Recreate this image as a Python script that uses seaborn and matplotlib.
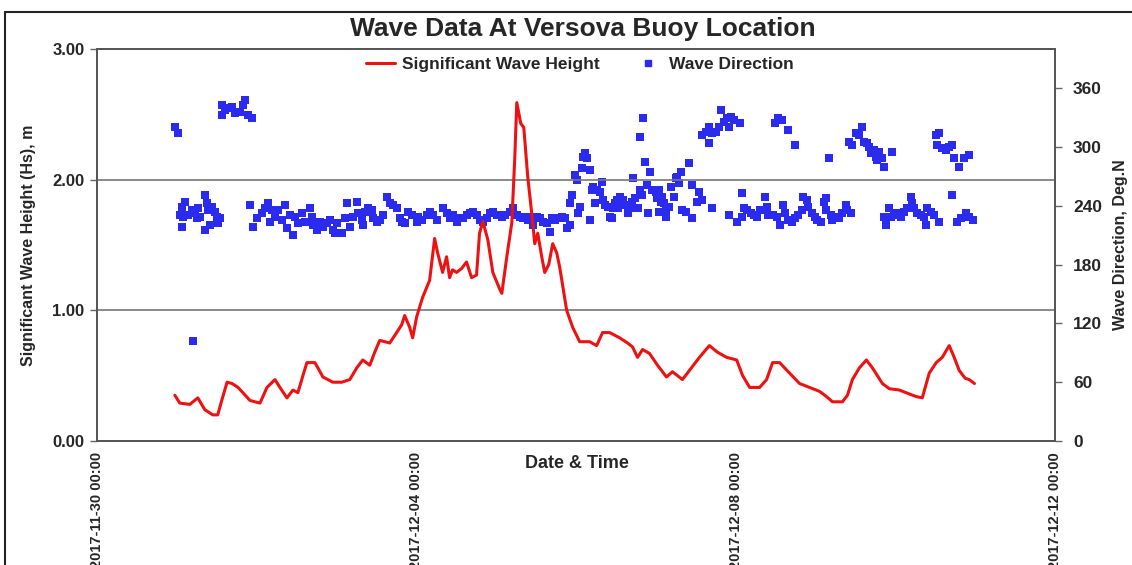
import numpy as np
import pandas as pd
import matplotlib
matplotlib.use("Agg")
import matplotlib.pyplot as plt
import matplotlib.dates as mdates
from matplotlib.lines import Line2D
import seaborn as sns

# ---------------- data (hours since 2017-11-30 00:00) ----------------
hs_hours = [23.4, 24.9, 27.9, 30.3, 32.4, 34.8, 36.3, 37.5, 39.1, 40.6, 42.4, 44.2, 46.0, 49.0,
            51.1, 53.5, 55.0, 57.1, 58.9, 60.4, 61.9, 63.1, 65.5, 66.4, 67.9, 70.9, 73.6, 76.0,
            78.1, 79.9, 82.0, 83.5, 85.0, 86.5, 88.0, 90.1, 91.6, 92.5, 94.0, 94.9, 96.1, 97.9,
            100.0, 101.5, 102.4, 103.9, 105.1, 106.0, 106.9, 108.1, 109.6, 111.1, 112.6, 114.1,
            115.0, 116.0, 117.5, 119.0, 121.1, 121.7, 123.2, 124.7, 125.6, 126.2, 127.4, 128.3,
            129.5, 130.7, 131.6, 132.5, 133.7, 134.6, 135.8, 137.0, 138.2, 139.1, 141.2, 143.0,
            145.1, 148.1, 150.2, 152.0, 154.1, 157.1, 159.5, 161.0, 162.5, 164.0, 166.1, 168.5,
            171.2, 173.0, 176.0, 178.1, 181.1, 184.1, 186.5, 189.3, 192.3, 194.1, 196.2, 199.2,
            201.3, 203.1, 205.2, 208.2, 211.2, 214.2, 217.2, 219.3, 221.1, 224.1, 225.6, 227.1,
            229.2, 231.3, 233.1, 236.1, 238.2, 241.2, 244.2, 246.3, 248.1, 250.2, 252.3, 254.1,
            256.2, 257.7, 259.2, 261.0, 262.2, 263.8]
hs_values = [0.35, 0.29, 0.28, 0.33, 0.24, 0.20, 0.20, 0.31, 0.45, 0.44, 0.41, 0.36, 0.31, 0.29,
             0.41, 0.47, 0.41, 0.33, 0.39, 0.37, 0.50, 0.60, 0.60, 0.56, 0.49, 0.45, 0.45, 0.47,
             0.56, 0.62, 0.58, 0.68, 0.77, 0.76, 0.75, 0.83, 0.89, 0.96, 0.87, 0.79, 0.95, 1.10,
             1.23, 1.55, 1.44, 1.29, 1.41, 1.25, 1.31, 1.29, 1.32, 1.37, 1.25, 1.27,
             1.59, 1.68, 1.54, 1.29, 1.16, 1.13, 1.41, 1.67, 2.17, 2.59, 2.43, 2.40,
             2.02, 1.74, 1.51, 1.59, 1.41, 1.29, 1.35, 1.51, 1.44, 1.33, 1.00, 0.87,
             0.76, 0.76, 0.73, 0.83, 0.83, 0.79, 0.75, 0.72, 0.64, 0.70, 0.67, 0.58,
             0.49, 0.53, 0.47, 0.54, 0.64, 0.73, 0.68, 0.64, 0.62, 0.50, 0.41, 0.41,
             0.47, 0.60, 0.60, 0.52, 0.44, 0.41, 0.38, 0.34, 0.30, 0.30, 0.35, 0.47,
             0.56, 0.62, 0.56, 0.44, 0.40, 0.39, 0.36, 0.34, 0.33, 0.52, 0.60, 0.64,
             0.73, 0.64, 0.54, 0.48, 0.47, 0.44]

dir_hours = [23.4, 24.3, 37.5, 38.5, 40.0, 41.5, 43.0, 44.5, 43.9, 45.4, 46.6, 37.5, 40.6,
             26.4, 25.5, 24.9, 25.8, 27.3, 28.5, 29.4, 30.3, 30.0, 30.9, 32.4, 33.0, 33.3, 34.5,
             35.4, 36.0, 36.9, 36.3, 25.5, 32.4, 33.9, 28.8,
             46.0, 48.1, 46.9, 49.6, 50.5, 51.4, 52.6, 53.5, 52.0, 54.4, 55.6, 56.5, 57.1, 58.0,
             58.9, 59.5, 60.4, 61.6, 62.5, 64.0, 64.6, 64.9, 66.1, 67.0, 67.9, 69.1, 70.0, 70.9, 71.5,
             72.1, 73.6, 74.5, 75.1, 76.0, 76.9, 78.1, 78.4, 79.6, 79.9, 80.5, 81.4, 82.6, 82.9,
             84.1, 85.0, 85.9, 87.1, 88.0, 88.9, 90.1, 91.0, 91.6, 92.5, 93.4, 94.6, 96.1, 96.4,
             97.6, 99.1, 100.0, 100.9, 102.1, 103.9, 105.1, 106.0, 106.9, 108.1, 109.0, 109.9,
             111.1, 112.0, 112.9, 114.1, 115.0, 116.0, 117.2, 118.1, 119.0, 120.2,
             121.7, 122.6, 124.1, 125.0, 126.2, 127.1, 128.0, 129.2, 129.5, 130.7, 131.0, 132.2,
             133.1, 134.0, 135.2, 136.1, 136.7, 137.6, 138.5, 139.7, 140.6, 141.2, 142.1,
             142.7, 142.1, 143.6, 144.2, 144.5, 145.1, 145.7, 146.0, 146.6, 147.2, 148.1, 148.1,
             148.7, 149.0, 149.6, 150.2, 151.1, 151.7, 152.0, 152.6, 153.5, 154.1, 154.7, 155.0,
             155.6, 156.2, 156.5, 157.1, 158.0, 158.6, 159.5, 160.1, 160.7, 161.0, 161.6, 162.5,
             163.1, 163.7, 163.1, 164.0, 164.6, 165.2, 165.5, 166.1, 166.7, 167.6, 168.2, 168.5,
             169.7, 169.1,
             169.1, 170.0, 170.6, 171.2, 171.2, 172.1, 172.7, 173.6, 174.2, 174.5, 175.1, 175.7,
             176.0, 177.2, 178.1, 179.0, 179.0, 180.5, 181.1, 182.0, 185.0, 182.0, 183.2, 184.1,
             184.1, 185.0, 186.2, 187.1, 187.7, 188.6, 189.5, 190.1, 190.7, 191.6, 193.2, 190.1,
             192.5, 193.8, 194.0, 194.6, 195.5, 196.7, 197.6, 198.5, 199.2, 200.7, 201.3, 201.6,
             203.1, 204.3, 205.2, 206.1, 206.7, 207.6, 208.8, 209.7, 210.6, 211.8, 212.1, 213.3,
             213.6, 214.8, 215.7, 216.6, 217.8, 218.7, 219.3, 203.7, 204.6, 205.8, 207.6, 209.7,
             220.2, 226.2, 227.1, 228.3, 229.2, 230.1, 230.7, 231.6, 232.2, 232.8, 233.7, 234.3,
             234.6, 235.2, 236.1, 236.7, 239.1, 252.3, 253.2, 252.6, 254.1, 255.3, 256.2, 257.1,
             257.7, 259.2, 260.7, 262.2,
             219.3, 220.8, 221.1, 222.3, 223.2, 224.1, 225.3, 225.6, 226.8, 238.2, 236.7, 237.3,
             238.8, 239.7, 240.6, 241.8, 242.7, 243.6, 244.8, 245.1, 245.7, 246.6, 247.8, 248.7,
             249.3, 249.6, 250.8, 251.7, 253.2, 257.1, 258.6, 259.8, 261.3, 262.2, 263.2]
dir_values = [320, 314, 343, 338, 340, 335, 336, 348, 343, 333, 330, 333, 341,
              244, 239, 231, 229, 231, 236, 233, 238, 228, 229, 251, 243, 236, 239,
              234, 229, 228, 222, 218, 215, 220, 102,
              241, 228, 218, 233, 238, 243, 236, 229, 223, 236, 226, 241, 217, 231,
              210, 229, 222, 233, 223, 238, 229, 220, 215, 223, 218, 222, 226, 215, 212,
              222, 212, 228, 243, 218, 229, 244, 233, 226, 220, 234, 238, 236, 228,
              223, 226, 231, 249, 243, 241, 238, 228, 223, 222, 234, 231, 223, 229,
              226, 231, 234, 231, 226, 238, 233, 228, 231, 223, 228, 228,
              231, 233, 234, 231, 226, 223, 228, 233, 234, 231,
              229, 231, 234, 238, 231, 229, 228, 229, 226, 228, 220, 229,
              228, 223, 222, 213, 228, 226, 228, 229, 228, 217, 220,
              251, 243, 271, 266, 233, 239, 279, 290, 294, 289, 277, 226,
              256, 259, 243, 256, 254, 264, 246, 241, 239, 229, 228, 238,
              243, 246, 238, 249, 246, 241, 233, 238, 244, 268, 248, 238,
              256, 251, 310, 330, 285, 261, 233, 274, 256, 256, 254, 248,
              244, 234,
              256, 249, 243, 236, 229, 239, 259, 249, 268, 269, 263, 274,
              236, 234, 284, 261, 228, 244, 254, 246, 238, 312, 315, 304,
              320, 314, 315, 320, 338, 326, 330, 320, 331, 328, 324, 231,
              223, 229, 253, 238, 236, 233, 231, 229, 236, 249, 239, 231,
              231, 229, 220, 241, 233, 226, 223, 228, 231, 236, 249, 246,
              239, 233, 229, 226, 223, 244, 248, 324, 330, 328, 317, 302,
              289, 305, 302, 314, 312, 320, 305, 304, 300, 294, 297, 290,
              287, 295, 289, 280, 295, 312, 314, 302, 299, 297, 300, 302,
              289, 280, 289, 292,
              236, 231, 226, 229, 228, 233, 241, 236, 233, 238, 229, 220,
              229, 231, 233, 229, 234, 238, 249, 243, 238, 233, 231, 229,
              220, 238, 234, 231, 223, 251, 223, 228, 233, 229, 226]

x_ticks = ["2017-11-30", "2017-12-04", "2017-12-08", "2017-12-12"]
left_ticks = [0.0, 1.0, 2.0, 3.0]
right_ticks = [0, 60, 120, 180, 240, 300, 360]

base = pd.Timestamp("2017-11-30 00:00")
hs_df = pd.DataFrame({"time": base + pd.to_timedelta(hs_hours, unit="h"), "Hs": hs_values})
dir_df = pd.DataFrame({"time": base + pd.to_timedelta(dir_hours, unit="h"), "Dir": dir_values})

# ---------------- styling ----------------
sns.set_style("white")
plt.rcParams["font.family"] = ["Liberation Sans", "DejaVu Sans"]

RED = "#ee1111"
BLUE = "#2b2bf0"

fig = plt.figure(figsize=(11.32, 5.65), dpi=100)
ax = fig.add_axes([97 / 1132, 1 - 441 / 565, (1055 - 97) / 1132, (441 - 49) / 565])
ax2 = ax.twinx()

sns.lineplot(data=hs_df, x="time", y="Hs", ax=ax, color=RED, linewidth=2.2,
             estimator=None, sort=False, label="Significant Wave Height", legend=False)
sns.scatterplot(data=dir_df, x="time", y="Dir", ax=ax2, color=BLUE, marker="s",
                s=26, linewidth=0, label="Wave Direction", legend=False, zorder=3)

ax.set_zorder(ax2.get_zorder() + 1)
ax.patch.set_visible(False)

ax.set_xlim(pd.Timestamp(x_ticks[0]), pd.Timestamp(x_ticks[-1]))
ax.set_ylim(0, 3)
ax2.set_ylim(0, 400)

ax.set_xticks([pd.Timestamp(t) for t in x_ticks])
ax.xaxis.set_major_formatter(mdates.DateFormatter("%Y-%m-%d %H:%M"))
for lab in ax.get_xticklabels():
    lab.set_rotation(90)
    lab.set_fontweight("bold")
    lab.set_fontsize(10.5)

ax.set_yticks(left_ticks)
ax.set_yticklabels([f"{v:.2f}" for v in left_ticks], fontweight="bold", fontsize=12)
ax2.set_yticks(right_ticks)
ax2.set_yticklabels([str(v) for v in right_ticks], fontweight="bold", fontsize=12.5)

ax.tick_params(axis="both", direction="out", length=5, width=1, color="#666666", pad=4)
ax.tick_params(axis="x", pad=3)
ax2.tick_params(axis="y", direction="out", length=5, width=1, color="#666666", pad=8)

for a in (ax, ax2):
    for sp in a.spines.values():
        sp.set_color("#555555")
        sp.set_linewidth(1.3)

ax.yaxis.grid(True, color="#777777", linewidth=1.2)
ax.xaxis.grid(False)
ax2.grid(False)

narrow = ["Liberation Sans Narrow", "Liberation Sans", "DejaVu Sans"]
ax.set_ylabel("Significant Wave Height (Hs), m", fontweight="bold", fontsize=11.5,
              family=narrow, labelpad=12)
ax2.set_ylabel("Wave Direction, Deg.N", fontweight="bold", fontsize=11.5,
               family=narrow, rotation=90, labelpad=8)
ax.set_xlabel("")
fig.text(577 / 1132, 1 - 463 / 565, "Date & Time", ha="center", va="center",
         fontweight="bold", fontsize=13)

fig.text(583 / 1132, 1 - 29 / 565, "Wave Data At Versova Buoy Location", ha="center",
         va="center", fontweight="bold", fontsize=19)

handles = [Line2D([0], [0], color=RED, linewidth=2.2),
           Line2D([0], [0], color=BLUE, marker="s", linestyle="none", markersize=5)]
leg = ax.legend(handles, ["Significant Wave Height", "Wave Direction"], loc="upper center",
                bbox_to_anchor=(0.504, 1.02), ncol=2, frameon=False, columnspacing=1.9,
                handlelength=1.7, handletextpad=0.4, prop={"weight": "bold", "size": 12.5})

# outer frame of the figure
fig.add_artist(Line2D([5 / 1132, 1.0], [1 - 12 / 565, 1 - 12 / 565], color="#222222",
                      linewidth=1.5, transform=fig.transFigure))
fig.add_artist(Line2D([5 / 1132, 5 / 1132], [0.0, 1 - 12 / 565], color="#222222",
                      linewidth=1.5, transform=fig.transFigure))

fig.savefig("out.png", dpi=100)
